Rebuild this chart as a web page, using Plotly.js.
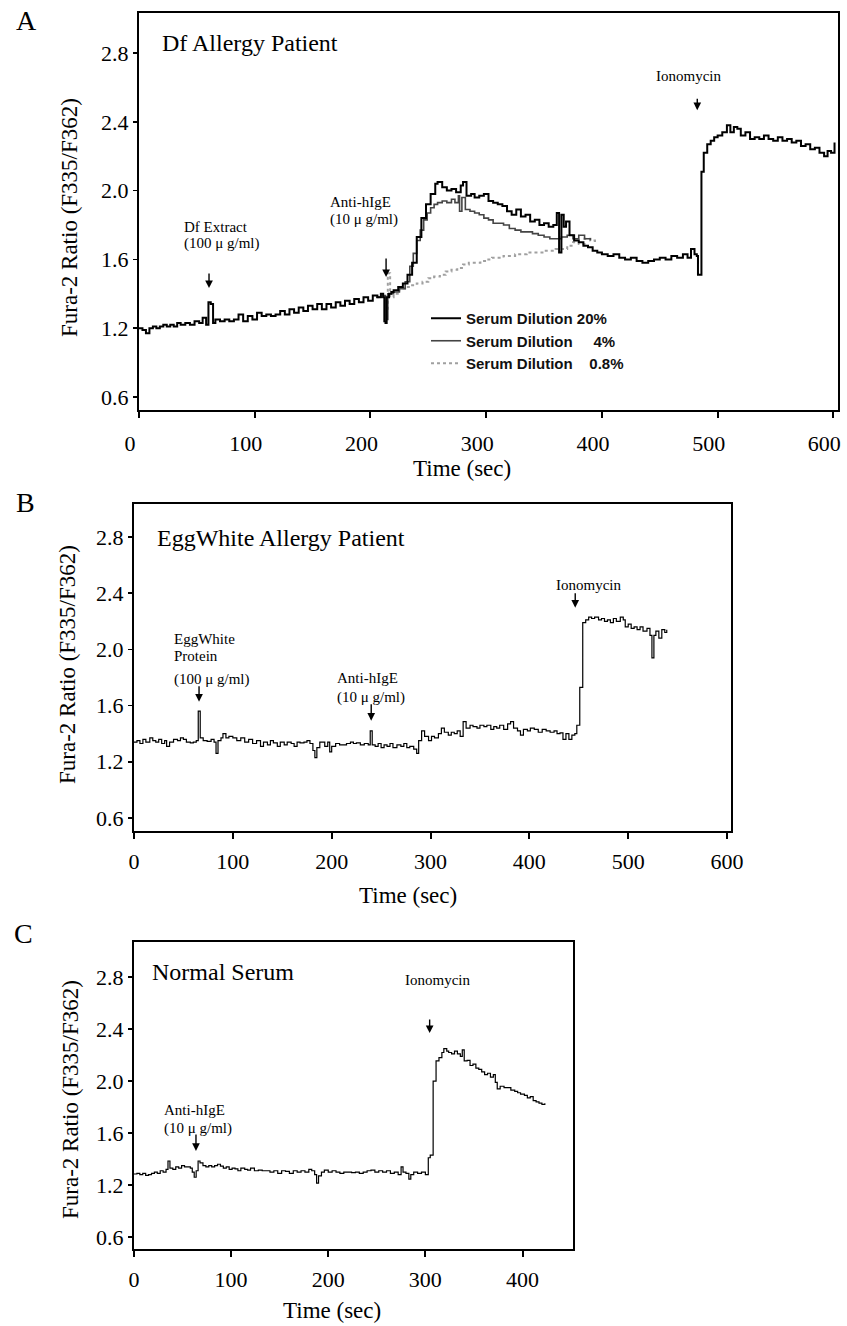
<!DOCTYPE html>
<html>
<head>
<meta charset="utf-8">
<script src="https://cdn.plot.ly/plotly-3.0.1.min.js"></script>
<style>html,body{margin:0;padding:0;background:#fff;}#chart{width:847px;height:1326px;}</style>
</head>
<body>
<div id="chart"></div>
<script>
// ---------- Data ----------
// Panel A: Df allergy patient, three serum dilutions
const timeA20 = [0,3,6,9,12,15,18,21,24,27,30,33,36,40,44,48,52,55,58,60,62,64,66,70,74,78,82,86,90,94,98,102,106,110,114,118,122,126,130,134,138,142,146,150,154,158,162,166,170,174,178,182,186,190,194,198,202,206,209,211,212,213,214,216,218,220,224,228,232,236,240,244,248,252,256,258,262,266,270,274,278,280,283,287,290,294,298,302,306,310,314,318,322,326,330,334,338,342,346,350,354,358,361,363,365,367,369,372,376,380,384,388,392,396,400,405,410,415,420,425,430,435,440,445,450,455,460,465,470,474,477,480,482,483,485,486,488,491,494,497,500,504,508,511,514,517,520,524,528,532,536,540,544,548,552,556,560,564,568,572,576,580,584,588,592,595,598,601];
const ratioA20 = [1.20,1.19,1.17,1.20,1.21,1.20,1.21,1.22,1.21,1.22,1.21,1.23,1.22,1.23,1.22,1.24,1.23,1.26,1.22,1.35,1.34,1.23,1.25,1.24,1.25,1.24,1.25,1.28,1.24,1.27,1.25,1.29,1.27,1.28,1.27,1.28,1.30,1.28,1.31,1.29,1.32,1.30,1.33,1.31,1.34,1.31,1.34,1.32,1.35,1.33,1.36,1.34,1.37,1.35,1.38,1.36,1.39,1.38,1.40,1.38,1.24,1.23,1.38,1.40,1.41,1.42,1.44,1.46,1.51,1.58,1.73,1.84,1.92,1.98,2.04,2.05,2.02,2.00,2.01,1.99,2.03,2.05,1.97,1.98,1.96,1.97,1.98,1.94,1.93,1.92,1.91,1.88,1.86,1.89,1.85,1.86,1.82,1.83,1.80,1.81,1.79,1.80,1.87,1.64,1.86,1.79,1.82,1.74,1.71,1.70,1.68,1.67,1.65,1.64,1.63,1.62,1.63,1.61,1.60,1.61,1.59,1.58,1.59,1.60,1.61,1.60,1.62,1.61,1.63,1.61,1.66,1.63,1.62,1.51,1.51,2.11,2.22,2.27,2.29,2.31,2.32,2.34,2.38,2.34,2.37,2.36,2.32,2.34,2.30,2.31,2.30,2.32,2.30,2.29,2.31,2.29,2.30,2.28,2.29,2.26,2.27,2.24,2.25,2.22,2.20,2.23,2.22,2.28];
const timeA4 = [205,210,213,215,220,225,230,234,237,240,243,246,249,252,255,258,262,266,270,273,276,277,279,282,286,290,294,298,302,306,310,315,320,325,330,335,340,345,350,355,360,365,370,375,380,385,390];
const ratioA4 = [1.38,1.39,1.25,1.40,1.41,1.43,1.47,1.56,1.635,1.71,1.77,1.83,1.87,1.90,1.92,1.93,1.94,1.93,1.95,1.93,1.97,1.88,1.96,1.89,1.88,1.87,1.86,1.84,1.83,1.81,1.81,1.80,1.78,1.77,1.76,1.76,1.75,1.74,1.73,1.72,1.72,1.73,1.74,1.72,1.74,1.72,1.71];
const timeA08 = [205,210,213,215,217,220,225,230,235,240,245,250,255,260,265,270,275,280,285,290,295,300,305,310,315,320,325,330,335,340,345,350,355,360,365,370,375,380,385,390,394];
const ratioA08 = [1.38,1.39,1.30,1.52,1.38,1.40,1.43,1.44,1.45,1.46,1.47,1.49,1.50,1.51,1.53,1.54,1.55,1.57,1.58,1.58,1.59,1.60,1.61,1.61,1.62,1.62,1.63,1.63,1.64,1.64,1.64,1.65,1.65,1.66,1.66,1.68,1.70,1.69,1.72,1.71,1.70];
const seriesNamesA = ["Serum Dilution 20%","Serum Dilution\u00a0\u00a0\u00a0\u00a0 4%","Serum Dilution\u00a0\u00a0\u00a0 0.8%"];

// Panel B: EggWhite allergy patient
const timeB = [0,3,6,9,12,16,19,22,25,28,31,33,36,40,44,47,50,53,57,60,63,65,67,70,74,78,81,83,85,88,90,93,96,100,104,108,112,116,120,124,128,131,135,138,141,145,148,152,155,159,162,165,168,172,175,178,181,183,185,188,190,193,196,198,200,204,208,211,215,219,222,225,229,233,237,239,241,244,247,250,253,256,259,262,266,270,273,276,279,283,286,288,291,294,298,301,304,308,311,314,318,321,324,327,330,333,336,340,343,347,350,354,357,361,364,367,370,374,378,381,384,388,391,394,398,401,405,409,413,417,421,425,428,431,434,437,440,443,446,448,451,454,457,460,463,466,470,473,476,479,482,485,488,492,495,497,500,503,506,509,512,515,519,522,524,526,528,531,534,537,539];
const ratioB = [1.34,1.35,1.33,1.36,1.34,1.37,1.35,1.34,1.36,1.33,1.35,1.31,1.34,1.36,1.35,1.37,1.36,1.34,1.335,1.34,1.35,1.56,1.37,1.35,1.345,1.36,1.34,1.26,1.35,1.37,1.40,1.37,1.38,1.37,1.35,1.37,1.34,1.36,1.33,1.35,1.31,1.34,1.32,1.35,1.335,1.31,1.34,1.32,1.34,1.33,1.31,1.34,1.335,1.34,1.35,1.33,1.28,1.23,1.30,1.34,1.34,1.31,1.34,1.27,1.31,1.33,1.32,1.32,1.33,1.34,1.33,1.335,1.32,1.33,1.32,1.42,1.32,1.31,1.33,1.30,1.32,1.31,1.33,1.30,1.32,1.31,1.33,1.30,1.31,1.29,1.26,1.35,1.42,1.38,1.35,1.38,1.37,1.40,1.44,1.41,1.39,1.41,1.40,1.42,1.38,1.485,1.44,1.46,1.45,1.44,1.46,1.45,1.46,1.43,1.45,1.44,1.46,1.43,1.47,1.485,1.44,1.42,1.39,1.43,1.42,1.44,1.43,1.41,1.43,1.42,1.41,1.42,1.40,1.405,1.36,1.40,1.36,1.39,1.40,1.46,1.73,2.19,2.21,2.23,2.22,2.23,2.21,2.22,2.20,2.21,2.19,2.22,2.20,2.23,2.21,2.16,2.18,2.15,2.16,2.14,2.16,2.13,2.15,2.10,1.94,2.10,2.13,2.08,2.14,2.12,2.14];

// Panel C: normal serum
const timeC = [0,3,6,9,12,15,18,21,24,27,30,33,35,37,40,43,46,49,52,55,58,60,62,64,66,68,71,74,77,80,83,86,89,92,95,98,101,104,107,110,114,117,120,124,128,132,136,140,144,148,152,156,160,164,168,172,176,180,183,186,188,190,193,196,200,204,208,212,216,220,224,228,232,236,240,244,248,252,256,260,264,268,272,275,277,280,283,285,288,292,296,300,303,305,307,308,311,314,317,319,322,324,327,330,333,336,338,340,343,346,349,352,355,358,361,364,367,370,372,374,377,381,385,388,392,395,398,402,405,408,411,414,417,420,423];
const ratioC = [1.285,1.29,1.28,1.29,1.275,1.28,1.29,1.30,1.29,1.31,1.30,1.32,1.385,1.33,1.32,1.34,1.33,1.35,1.34,1.34,1.33,1.30,1.26,1.31,1.385,1.37,1.35,1.34,1.35,1.34,1.35,1.36,1.345,1.33,1.34,1.32,1.33,1.325,1.31,1.33,1.32,1.315,1.33,1.31,1.315,1.31,1.31,1.30,1.31,1.29,1.31,1.305,1.29,1.31,1.30,1.31,1.30,1.32,1.31,1.28,1.215,1.27,1.30,1.315,1.30,1.31,1.30,1.29,1.30,1.30,1.295,1.30,1.29,1.30,1.31,1.315,1.30,1.31,1.30,1.31,1.29,1.30,1.28,1.34,1.30,1.29,1.245,1.28,1.30,1.29,1.30,1.28,1.41,1.43,1.43,2.00,2.155,2.18,2.22,2.25,2.23,2.22,2.21,2.23,2.21,2.19,2.24,2.155,2.16,2.12,2.13,2.10,2.09,2.07,2.05,2.06,2.03,2.05,1.99,1.94,1.96,1.95,1.95,1.93,1.92,1.91,1.90,1.89,1.87,1.88,1.85,1.84,1.83,1.82,1.83];

// Tick labels
const yTickVals = [0.8,1.2,1.6,2.0,2.4,2.8];
const yTickText = ["0.6","1.2","1.6","2.0","2.4","2.8"];
const xTickValsA = [0,100,200,300,400,500,600];
const xTickValsB = [0,100,200,300,400,500,600];
const xTickValsC = [0,100,200,300,400];

// ---------- Layout helpers ----------
const W = 847, H = 1326;
const px = x => x / W;
const py = y => 1 - y / H;
const SERIF = "Liberation Serif, Times New Roman, serif";

function txt(s, x, y, size, anchor, angle) {
  return {text: s, xref: 'paper', yref: 'paper', x: px(x), y: py(y),
    xanchor: anchor || 'center', yanchor: 'middle', showarrow: false,
    textangle: angle || 0, font: {family: SERIF, size: size, color: '#000'}};
}
function arrow(xa, ya, t, v, len) {
  return {text: '', xref: xa, yref: ya, x: t, y: v, ax: 0, ay: -len,
    showarrow: true, arrowhead: 2, arrowsize: 1.1, arrowwidth: 1.4, arrowcolor: '#000'};
}
function xax(dom, range, ticks, anchor, standoff, shift) {
  return {domain: dom, range: range, anchor: anchor, tickvals: ticks,
    showline: true, mirror: true, linecolor: '#000', linewidth: 2,
    ticks: 'outside', ticklen: 6, tickwidth: 2, tickcolor: '#000',
    showgrid: false, zeroline: false, ticklabelstandoff: standoff,
    ticklabelshift: shift || 0, ticklabeloverflow: 'allow',
    tickfont: {family: SERIF, size: 22, color: '#000'}};
}
function yax(dom, range, anchor) {
  return {domain: dom, range: range, anchor: anchor, tickvals: yTickVals, ticktext: yTickText,
    showline: true, mirror: true, linecolor: '#000', linewidth: 2,
    ticks: 'outside', ticklen: 4, tickwidth: 1.5, tickcolor: '#000',
    showgrid: false, zeroline: false,
    tickfont: {family: SERIF, size: 22, color: '#000'}};
}

const traces = [
  {x: timeA08, y: ratioA08, xaxis: 'x', yaxis: 'y', mode: 'lines', line: {shape: 'hv', color: '#a0a0a0', width: 2, dash: 'dot'}, name: seriesNamesA[2], legendrank: 3},
  {x: timeA4, y: ratioA4, xaxis: 'x', yaxis: 'y', mode: 'lines', line: {shape: 'hv', color: '#444', width: 1.6}, name: seriesNamesA[1], legendrank: 2},
  {x: timeA20, y: ratioA20, xaxis: 'x', yaxis: 'y', mode: 'lines', line: {shape: 'hv', color: '#000', width: 2}, name: seriesNamesA[0], legendrank: 1},
  {x: timeB, y: ratioB, xaxis: 'x2', yaxis: 'y2', mode: 'lines', line: {shape: 'hv', color: '#000', width: 1.2}, showlegend: false},
  {x: timeC, y: ratioC, xaxis: 'x3', yaxis: 'y3', mode: 'lines', line: {shape: 'hv', color: '#000', width: 1.2}, showlegend: false}
];

const layout = {
  width: W, height: H,
  margin: {l: 0, r: 0, t: 0, b: 0},
  paper_bgcolor: '#fff', plot_bgcolor: '#fff',
  showlegend: true,
  legend: {x: px(426), y: py(302), xanchor: 'left', yanchor: 'top', bgcolor: 'rgba(0,0,0,0)',
    font: {family: 'Liberation Sans, Arial, sans-serif', size: 15, color: '#111', weight: 'bold'},
    itemwidth: 30, tracegroupgap: 0},
  xaxis: xax([px(139), px(838)], [0, 604], xTickValsA, 'y', 7, -9),
  yaxis: yax([py(410), py(13)], [0.724, 3.033], 'x'),
  xaxis2: xax([px(134), px(731)], [0, 604], xTickValsB, 'y2', 4, 0),
  yaxis2: yax([py(831), py(504)], [0.707, 3.035], 'x2'),
  xaxis3: xax([px(134), px(573)], [0, 452], xTickValsC, 'y3', 4, 0),
  yaxis3: yax([py(1249), py(942)], [0.708, 3.07], 'x3'),
  annotations: [
    // panel letters
    txt('A', 26, 21, 28), txt('B', 25, 502, 28), txt('C', 23, 933, 28),
    // panel titles
    txt('Df Allergy Patient', 160, 43, 24, 'left'),
    txt('EggWhite Allergy Patient', 155, 538, 24, 'left'),
    txt('Normal Serum', 150, 972, 24, 'left'),
    // axis titles
    txt('Fura-2 Ratio (F335/F362)', 70, 218, 23, 'center', -90),
    txt('Fura-2 Ratio (F335/F362)', 67, 665, 23, 'center', -90),
    txt('Fura-2 Ratio (F335/F362)', 70, 1100, 23, 'center', -90),
    txt('Time (sec)', 462, 468, 23), txt('Time (sec)', 408, 895, 23), txt('Time (sec)', 332, 1310, 23),
    // Panel A event labels
    txt('Df Extract', 182, 227, 15, 'left'), txt('(100 \u03bc g/ml)', 182, 243, 15, 'left'),
    txt('Anti-hIgE', 328, 202, 15, 'left'), txt('(10 \u03bc g/ml)', 328, 220, 15, 'left'),
    txt('Ionomycin', 688, 76, 15),
    arrow('x', 'y', 60.5, 1.433, 16), arrow('x', 'y', 213.5, 1.497, 20), arrow('x', 'y', 482.4, 2.467, 13),
    // Panel B event labels
    txt('EggWhite', 172, 639, 15, 'left'), txt('Protein', 172, 656, 15, 'left'), txt('(100 \u03bc g/ml)', 172, 680, 15, 'left'),
    txt('Anti-hIgE', 335, 678, 15, 'left'), txt('(10 \u03bc g/ml)', 335, 697, 15, 'left'),
    txt('Ionomycin', 588, 585, 15),
    arrow('x2', 'y2', 65.8, 1.627, 17), arrow('x2', 'y2', 240, 1.492, 18), arrow('x2', 'y2', 446.4, 2.296, 16),
    // Panel C event labels
    txt('Anti-hIgE', 162, 1110, 15, 'left'), txt('(10 \u03bc g/ml)', 162, 1128, 15, 'left'),
    txt('Ionomycin', 437, 980, 15),
    arrow('x3', 'y3', 63.8, 1.462, 18), arrow('x3', 'y3', 304.4, 2.369, 15)
  ]
};

Plotly.newPlot('chart', traces, layout, {staticPlot: true, displayModeBar: false});
</script>
</body>
</html>
